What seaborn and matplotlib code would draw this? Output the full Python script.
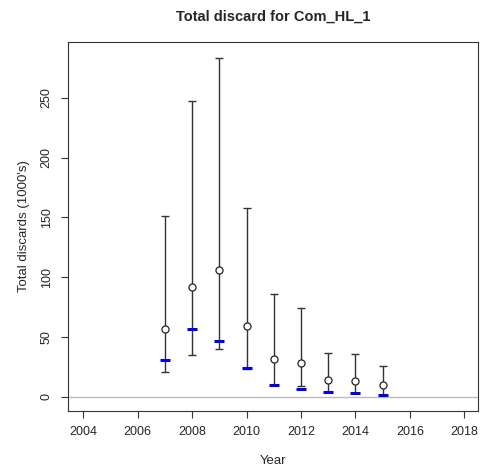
import matplotlib
matplotlib.use("Agg")
import matplotlib.pyplot as plt
import seaborn as sns
import pandas as pd

years = [2007, 2008, 2009, 2010, 2011, 2012, 2013, 2014, 2015]
estimate = [57, 92, 106, 59, 32, 28, 14, 13, 10]
upper = [151, 247, 283, 158, 86, 74, 37, 36, 26]
lower = [21, 35, 40, 23, 10, 9, 4, 3, 2]
observed = [31, 57, 47, 24, 10, 7, 4, 3, 2]

df = pd.DataFrame({"Year": years, "est": estimate, "hi": upper, "lo": lower, "obs": observed})

sns.set_style("white")
plt.rcParams['font.family'] = ['Liberation Sans', 'DejaVu Sans']

fig = plt.figure(figsize=(4.81, 4.76), dpi=100)
ax = fig.add_axes([68/481, 1 - 411/476, (478-68)/481, (411-42)/476])

ax.axhline(0, color="#bbbbbb", lw=1, zorder=1)
ax.errorbar(df["Year"], df["est"],
            yerr=[df["est"] - df["lo"], df["hi"] - df["est"]],
            fmt="none", ecolor="#333333", elinewidth=1, capsize=3, capthick=1, zorder=2)
sns.scatterplot(data=df, x="Year", y="obs", marker="_", s=45, color="#0000ee",
                linewidth=2.2, ax=ax, zorder=3)
sns.scatterplot(data=df, x="Year", y="est", marker="o", s=26, facecolor="white",
                edgecolor="#222222", linewidth=0.9, ax=ax, zorder=4)

ax.set_xlim(2003.44, 2018.5)
ax.set_ylim(-11.7, 296.6)
ax.set_xticks(range(2004, 2019, 2))
ax.set_yticks([0, 50, 100, 150, 200, 250])
ax.set_yticklabels(["0", "50", "100", "150", "200", "250"], rotation=90, va="center")
ax.tick_params(axis="both", direction="out", length=5, width=0.8, color="#333333",
               labelsize=9, left=True, bottom=True, pad=6)
for s in ax.spines.values():
    s.set_color("#333333")
    s.set_linewidth(0.8)
ax.set_xlabel("Year", fontsize=9.5, labelpad=12)
ax.set_ylabel("Total discards (1000's)", fontsize=9.5, labelpad=8)
ax.set_title("Total discard for Com_HL_1", fontsize=10.5, fontweight="bold", pad=15)

fig.savefig("out.png", dpi=100)
